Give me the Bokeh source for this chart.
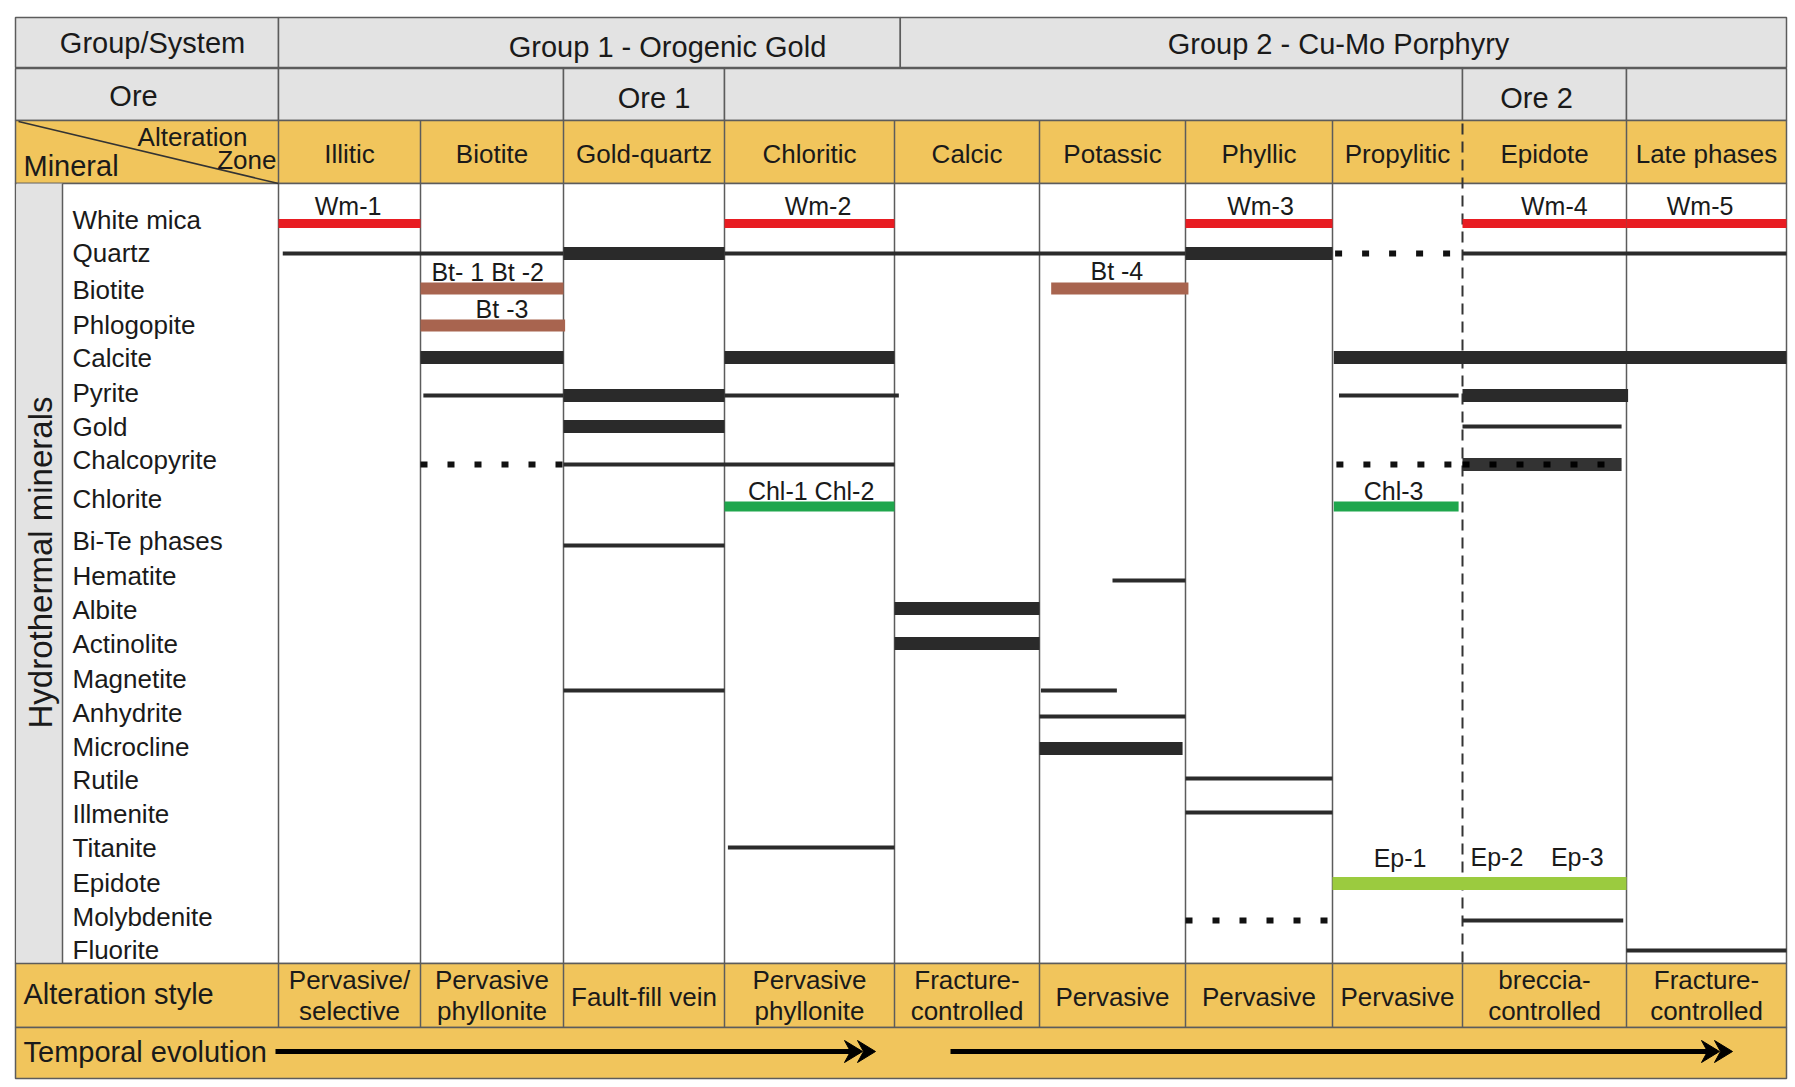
import numpy as np
from bokeh.plotting import figure
from bokeh.models import Range1d, ColumnDataSource
from bokeh.core.properties import value
from bokeh.embed import file_html
from bokeh.resources import INLINE

# ---------------- data ----------------
GROUP_NAMES = ["Group 1 - Orogenic Gold", "Group 2 - Cu-Mo Porphyry"]
GROUP_SPANS = [(0, 4.04), (4.04, 10)]          # in zone units
ORE_NAMES = ["", "Ore 1", "", "Ore 2", ""]
ORE_SPANS = [(0, 2), (2, 3), (3, 8), (8, 9), (9, 10)]
ZONES = ["Illitic", "Biotite", "Gold-quartz", "Chloritic", "Calcic",
         "Potassic", "Phyllic", "Propylitic", "Epidote", "Late phases"]
ALTERATION_STYLE = ["Pervasive/\nselective", "Pervasive\nphyllonite", "Fault-fill vein",
                    "Pervasive\nphyllonite", "Fracture-\ncontrolled", "Pervasive",
                    "Pervasive", "Pervasive", "breccia-\ncontrolled", "Fracture-\ncontrolled"]
MINERALS = ["White mica", "Quartz", "Biotite", "Phlogopite", "Calcite", "Pyrite", "Gold",
            "Chalcopyrite", "Chlorite", "Bi-Te phases", "Hematite", "Albite", "Actinolite",
            "Magnetite", "Anhydrite", "Microcline", "Rutile", "Illmenite", "Titanite",
            "Epidote", "Molybdenite", "Fluorite"]

# mineral bars: start / end given in zone units (zone i spans i..i+1)
BAR_MINERAL = ["White mica", "White mica", "White mica", "White mica", "White mica",
               "Quartz", "Quartz", "Quartz", "Quartz", "Quartz", "Quartz",
               "Biotite", "Biotite", "Phlogopite",
               "Calcite", "Calcite", "Calcite",
               "Pyrite", "Pyrite", "Pyrite", "Pyrite", "Pyrite",
               "Gold", "Gold",
               "Chalcopyrite", "Chalcopyrite", "Chalcopyrite", "Chalcopyrite",
               "Chlorite", "Chlorite", "Bi-Te phases", "Hematite", "Albite", "Actinolite",
               "Magnetite", "Magnetite", "Anhydrite", "Microcline", "Rutile", "Illmenite",
               "Titanite", "Epidote", "Molybdenite", "Molybdenite", "Fluorite"]
BAR_FROM = [0, 3, 6, 8, 9,
            0.03, 2, 3, 6, 7.02, 8,
            1, 5.08, 1,
            1, 3, 7.01,
            1.02, 2, 3, 7.05, 8,
            2, 8,
            1, 2, 7.03, 8,
            3, 7.01, 2, 5.5, 4, 4,
            2, 5.01, 5, 5, 6, 6,
            3.02, 7, 6, 8, 9]
BAR_TO = [1, 4, 7, 9, 10,
          2, 3, 6, 7, 7.92, 10,
          2, 6.02, 2.01,
          2, 4, 10,
          2, 3, 4.03, 7.97, 9.01,
          3, 8.97,
          2, 4, 7.92, 8.97,
          4, 7.97, 3, 6, 5, 5,
          3, 5.53, 6, 5.98, 7, 7,
          4, 9, 6.97, 8.98, 10]
BAR_KIND = ["red", "red", "red", "red", "red",
            "thin", "thick", "thin", "thick", "dotted", "thin",
            "brown", "brown", "brown",
            "thick", "thick", "thick",
            "thin", "thick", "thin", "thin", "thick",
            "thick", "thin",
            "dotted", "thin", "dotted", "thickdot",
            "green", "green", "thin", "thin", "thick", "thick",
            "thin", "thin", "thin", "thick", "thin", "thin",
            "thin", "lightgreen", "dotted", "thin", "thin"]

LABEL_TEXT = ["Wm-1", "Wm-2", "Wm-3", "Wm-4", "Wm-5", "Bt- 1 Bt -2", "Bt -3", "Bt -4",
              "Chl-1  Chl-2", "Chl-3", "Ep-1", "Ep-2", "Ep-3"]
LABEL_MINERAL = ["White mica"] * 5 + ["Biotite", "Phlogopite", "Biotite", "Chlorite",
                                      "Chlorite", "Epidote", "Epidote", "Epidote"]
LABEL_POS = [0.49, 3.55, 6.51, 8.56, 9.46, 1.47, 1.57, 5.53, 3.53, 7.47, 7.52, 8.21, 8.70]

# ---------------- layout ----------------
FIG_W, FIG_H = 1792, 1084
ZONE_EDGES = [278, 420, 563, 724, 894, 1039, 1185, 1332, 1462, 1626, 1786]
DASHED_EDGE = 8
T_LEFT, T_RIGHT, STRIP_R = 15, 1786, 62
Y_TOP, Y_ORE, Y_HEAD, Y_MIN, Y_STYLE, Y_TIME, Y_BOT = 17, 67, 120, 183, 963, 1027, 1078
ROW_LABEL_Y = [219, 252, 289, 324, 357, 392, 426, 459, 498, 540, 575, 609, 643, 678,
               712, 746, 779, 813, 847, 882, 916, 949]
ROW_BAR_Y = [223, 253, 288, 325, 357, 395, 426, 464, 506, 545, 580, 608, 643, 690,
             716, 748, 778, 812, 847, 883, 920, 950]
LABEL_DY = [-18] * 5 + [-17, -17, -18, -16, -16, -26, -27, -27]
GROUP_TEXT_X = [667, 1338]
GROUP_TEXT_Y = [46, 43]
ORE_TEXT_DX = [0, 10, 0, -8, 0]

GRAY = "#e3e3e3"
YELLOW = "#f1c55c"
BORDER = "#5c5c5c"
INK = "#1a1a1a"
FONT = value("Liberation Sans")

KIND_STYLE = {
    "thin": ("#2b2b2b", 4, "solid"),
    "thick": ("#2a2a2a", 13, "solid"),
    "dotted": ("#111111", 6, "7 20"),
    "thickdot": ("#333333", 13, "solid"),
    "red": ("#e81c22", 9, "solid"),
    "brown": ("#a8644f", 12, "solid"),
    "green": ("#1fa64d", 10, "solid"),
    "lightgreen": ("#9bcb3f", 13, "solid"),
}


def zx(u):
    return np.interp(u, np.arange(len(ZONE_EDGES)), ZONE_EDGES)


p = figure(width=FIG_W, height=FIG_H, x_range=Range1d(0, FIG_W),
           y_range=Range1d(FIG_H, 0), output_backend="svg", toolbar_location=None,
           x_axis_location=None, y_axis_location=None, min_border=0)
p.grid.visible = False
p.outline_line_color = None
p.background_fill_color = "white"
p.border_fill_color = "white"

# ---- table cells ----
gl = [T_LEFT] + [zx(a) for a, b in GROUP_SPANS]
gr = [zx(0)] + [zx(b) for a, b in GROUP_SPANS]
p.quad(left=gl, right=gr, top=Y_TOP, bottom=Y_ORE, fill_color=GRAY, line_color=BORDER, line_width=1.5)
ol = [T_LEFT] + [zx(a) for a, b in ORE_SPANS]
orr = [zx(0)] + [zx(b) for a, b in ORE_SPANS]
p.quad(left=ol, right=orr, top=Y_ORE + 1, bottom=Y_HEAD, fill_color=GRAY, line_color=BORDER, line_width=1.5)

p.quad(left=T_LEFT, right=T_RIGHT, top=Y_HEAD, bottom=Y_MIN, fill_color=YELLOW, line_color=BORDER, line_width=1.5)
p.quad(left=T_LEFT, right=T_RIGHT, top=Y_MIN, bottom=Y_STYLE, fill_color="white", line_color=BORDER, line_width=1.5)
p.quad(left=T_LEFT + 1, right=STRIP_R, top=Y_MIN, bottom=Y_STYLE, fill_color=GRAY, line_color=None)
p.quad(left=T_LEFT, right=T_RIGHT, top=Y_STYLE, bottom=Y_TIME, fill_color=YELLOW, line_color=BORDER, line_width=1.5)
p.quad(left=T_LEFT, right=T_RIGHT, top=Y_TIME, bottom=Y_BOT, fill_color=YELLOW, line_color=BORDER, line_width=1.5)

# vertical separators
solid_idx = [i for i in range(len(ZONE_EDGES) - 1) if i != DASHED_EDGE]
sx = [ZONE_EDGES[i] for i in solid_idx]
p.segment(x0=sx, y0=Y_HEAD, x1=sx, y1=Y_STYLE, line_color=BORDER, line_width=1.5)
p.segment(x0=STRIP_R, y0=Y_MIN, x1=STRIP_R, y1=Y_STYLE, line_color=BORDER, line_width=1.5)
ax = ZONE_EDGES[:-1]
p.segment(x0=ax, y0=Y_STYLE, x1=ax, y1=Y_TIME, line_color=BORDER, line_width=1.5)
de = ZONE_EDGES[DASHED_EDGE]
p.segment(x0=[de], y0=[Y_HEAD + 3], x1=[de], y1=[Y_STYLE], line_color="#333333",
          line_width=2, line_dash="11 7")
p.segment(x0=[T_LEFT + 3], y0=[Y_HEAD + 1], x1=[ZONE_EDGES[0]], y1=[Y_MIN], line_color="#333333", line_width=1.5)

# ---- bars ----
row_bar = dict(zip(MINERALS, ROW_BAR_Y))
for kind, (col, lw, dash) in KIND_STYLE.items():
    idx = [i for i, k in enumerate(BAR_KIND) if k == kind]
    if not idx:
        continue
    src = ColumnDataSource(dict(
        x0=[zx(BAR_FROM[i]) for i in idx], x1=[zx(BAR_TO[i]) for i in idx],
        y=[row_bar[BAR_MINERAL[i]] for i in idx]))
    p.segment(x0="x0", y0="y", x1="x1", y1="y", source=src, line_color=col,
              line_width=lw, line_dash=dash, line_cap="butt")
    if kind == "thickdot":
        p.segment(x0="x0", y0="y", x1="x1", y1="y", source=src, line_color="#000000",
                  line_width=6, line_dash="7 20", line_cap="butt")


def add_text(xs, ys, texts, size, align="center", angle=0.0, color=INK):
    src = ColumnDataSource(dict(x=list(xs), y=list(ys), t=list(texts)))
    p.text(x="x", y="y", text="t", source=src, text_font=FONT, text_font_size=value(size),
           text_align=align, text_baseline="middle", angle=angle, text_color=color)


# bar labels
add_text([zx(u) for u in LABEL_POS],
         [row_bar[m] + d for m, d in zip(LABEL_MINERAL, LABEL_DY)], LABEL_TEXT, "25px")

# header texts
add_text([152], [42], ["Group/System"], "29px")
add_text(GROUP_TEXT_X, GROUP_TEXT_Y, GROUP_NAMES, "29px")
add_text([133], [95], ["Ore"], "29px")
ore_x = [(zx(a) + zx(b)) / 2 + d for (a, b), d in zip(ORE_SPANS, ORE_TEXT_DX)]
add_text([x for x, n in zip(ore_x, ORE_NAMES) if n], [97] * 2, [n for n in ORE_NAMES if n], "29px")
zc = [zx(i + 0.5) for i in range(len(ZONES))]
add_text(zc, [153] * len(ZONES), ZONES, "26px")
add_text([192], [136], ["Alteration"], "26px")
add_text([276], [159], ["Zone"], "26px", align="right")
add_text([23], [165], ["Mineral"], "29px", align="left")

# mineral names
add_text([72] * len(MINERALS), ROW_LABEL_Y, MINERALS, "26px", align="left")
add_text([40], [(Y_MIN + Y_STYLE) / 2 - 11], ["Hydrothermal minerals"], "33px", angle=np.pi / 2)

# alteration style row
sx_, sy_, st_ = [], [], []
ymid = (Y_STYLE + Y_TIME) / 2 + 1
for c, s in zip(zc, ALTERATION_STYLE):
    lines = s.split("\n")
    if len(lines) == 1:
        sx_.append(c); sy_.append(ymid); st_.append(lines[0])
    else:
        sx_ += [c, c]; sy_ += [ymid - 17, ymid + 14]; st_ += lines
add_text(sx_, sy_, st_, "26px")
add_text([23], [993], ["Alteration style"], "29px", align="left")
add_text([23], [1051], ["Temporal evolution"], "29px", align="left")

# temporal arrows
AY = 1051
ARROWS = [(275, 875), (950, 1732)]
for a0, a1 in ARROWS:
    p.segment(x0=[a0], y0=[AY], x1=[a1 - 16], y1=[AY], line_color="black", line_width=5)
    xs, ys = [], []
    for tip in (a1, a1 - 13):
        xs.append([tip - 18, tip, tip - 18, tip - 12])
        ys.append([AY - 11, AY, AY + 11, AY])
    p.patches(xs=xs, ys=ys, fill_color="black", line_color="black", line_width=1)

open("out.html", "w").write(file_html(p, INLINE))
